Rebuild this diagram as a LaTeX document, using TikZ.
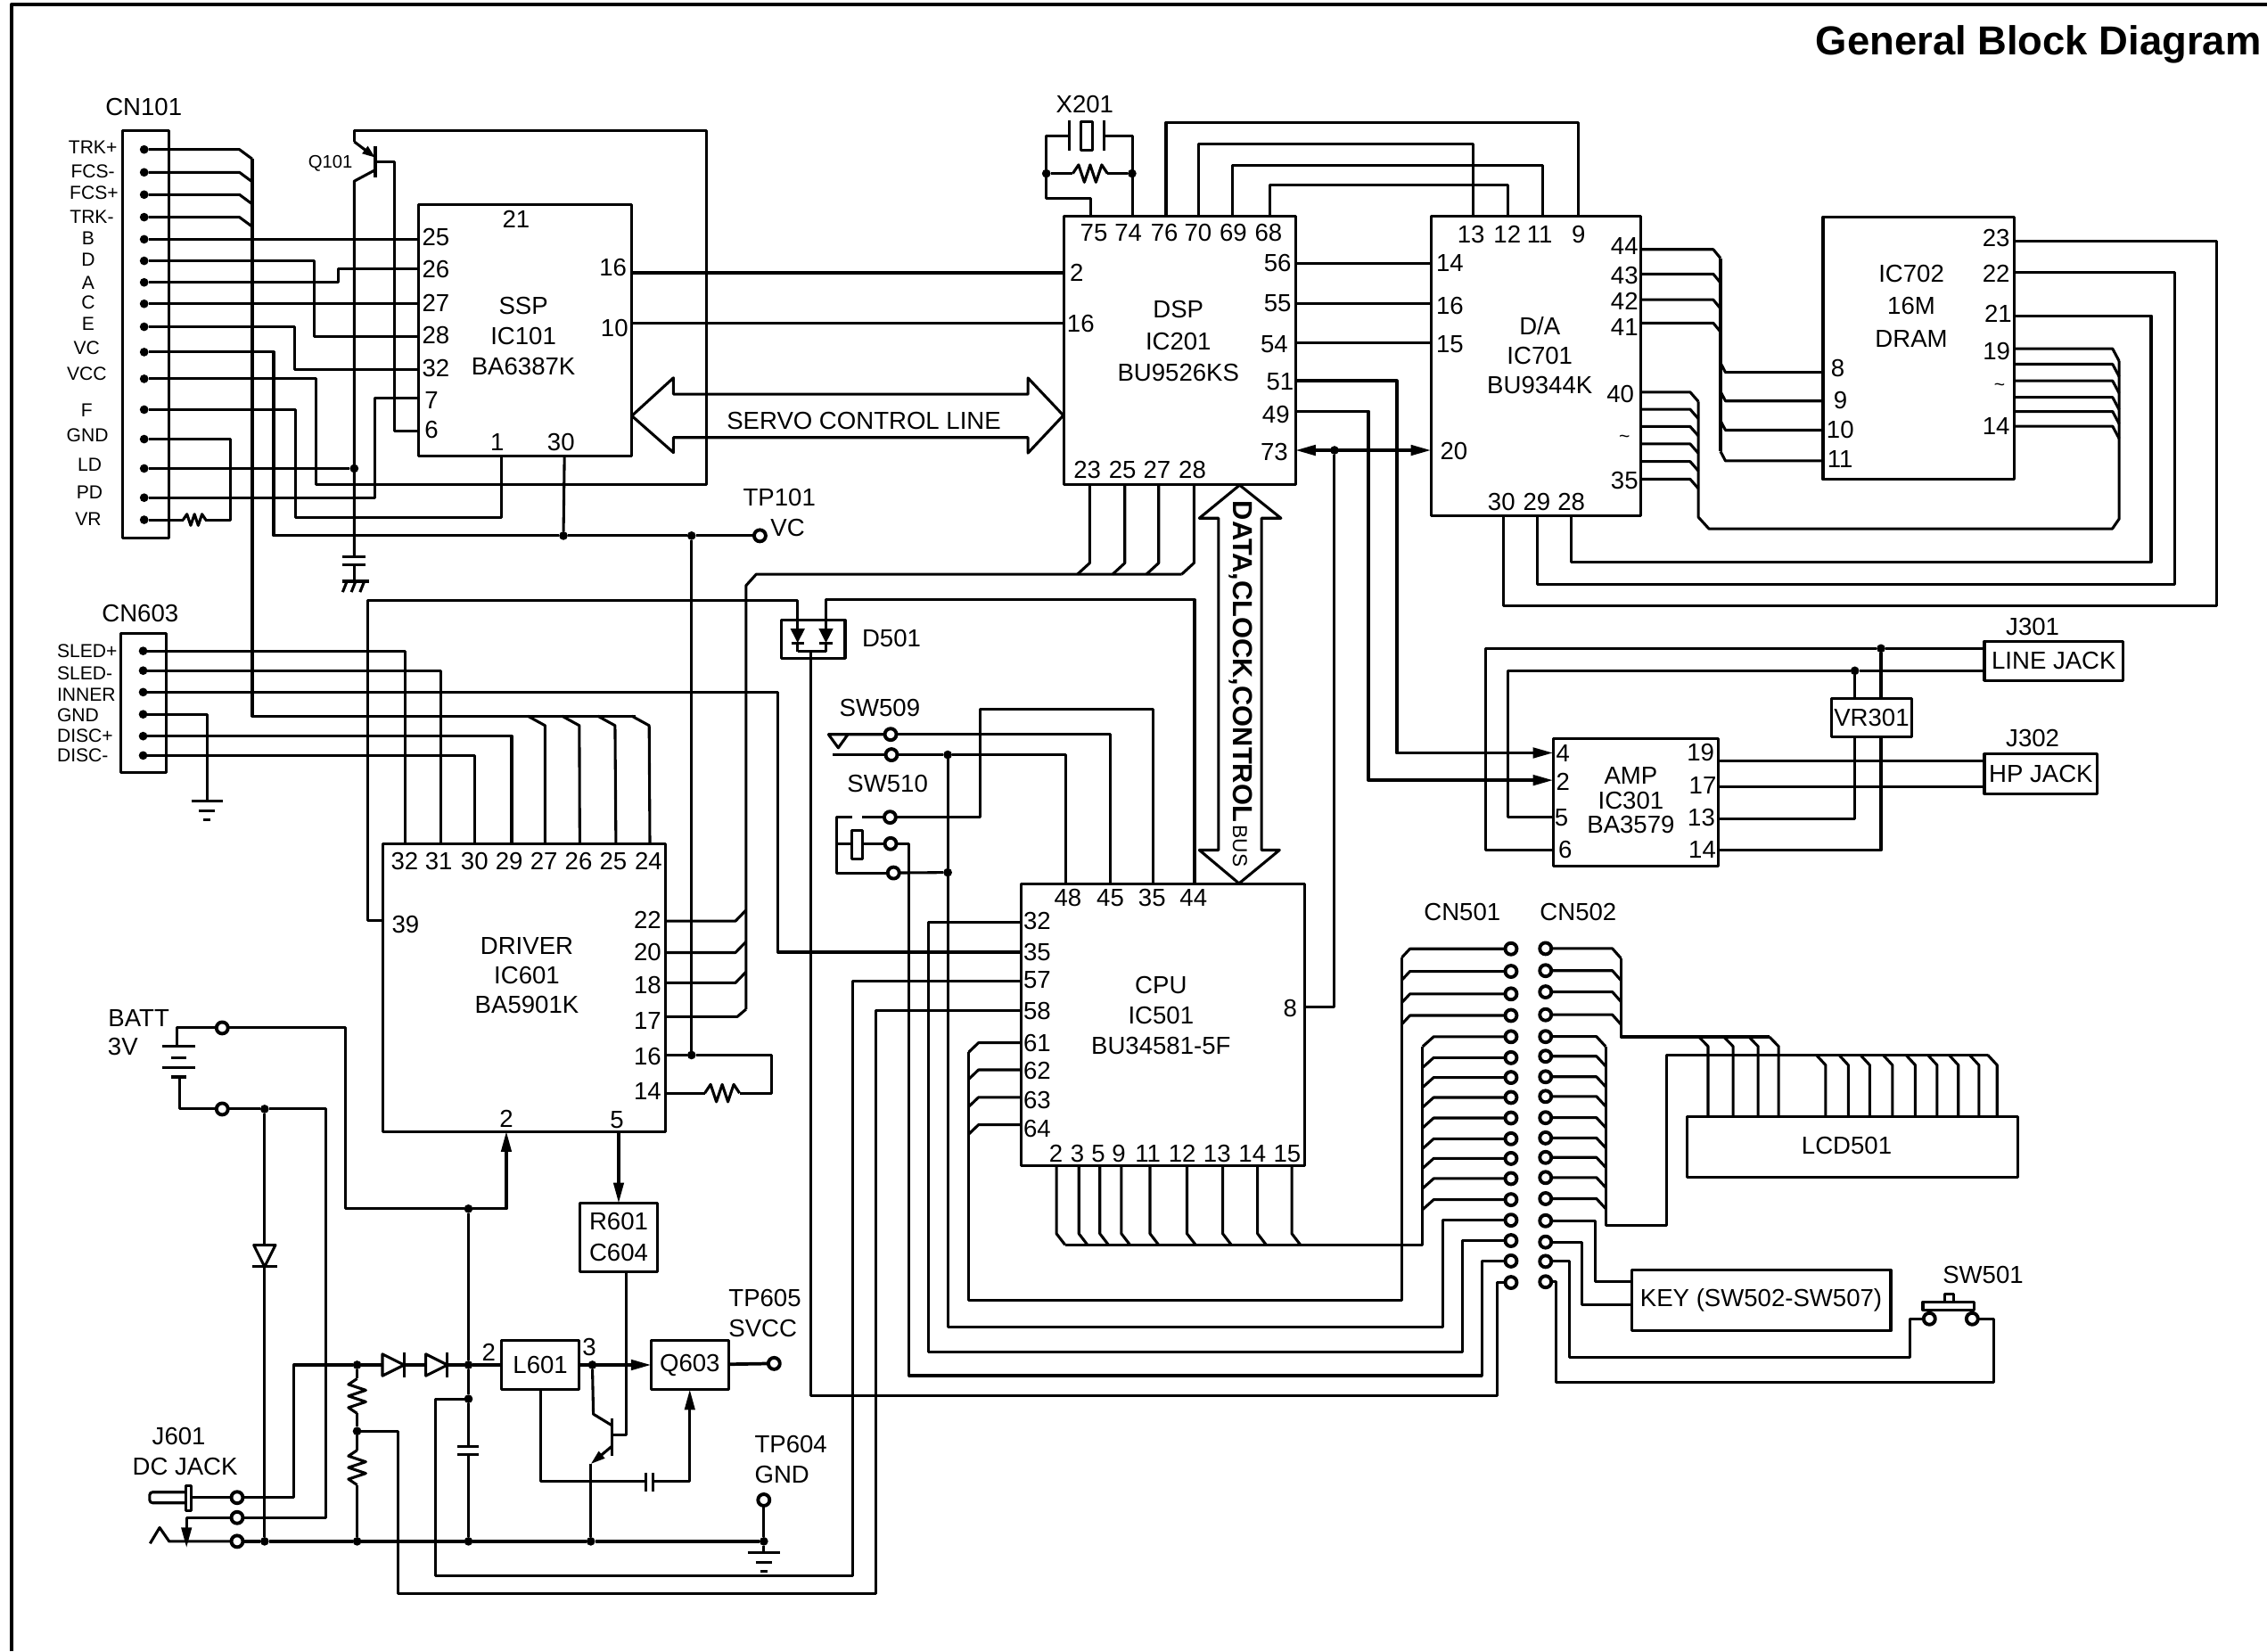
\documentclass[tikz,border=0pt]{standalone}
\usepackage{fontspec}
\setmainfont{Liberation Sans}
\usetikzlibrary{arrows.meta}

\newcommand{\numfont}{\fontsize{17}{20}\selectfont}
\newcommand{\smallfont}{\fontsize{13}{15}\selectfont}

\tikzset{
    every node/.style={inner sep=0, outer sep=0, font=\numfont},
    dot/.style={circle, fill, minimum size=6},
    term/.style={circle, draw, fill=white, line width=2.4, minimum size=8},
    ic/.style={draw, minimum width=#1},
    ictext/.style={align=center, font=\fontsize{17}{#1}\selectfont},
    heavy/.style={line width=2.3},
    resh/.pic={\draw (-12,0) -- (-8,-6) -- (-4,6) -- (0,-6) -- (4,6) -- (8,-6) -- (12,0);},
    diode/.pic={\draw[fill=white] (-7.5,-7.5) -- (7.5,0) -- (-7.5,7.5) -- cycle;
        \draw (7.5,-8.5) -- (7.5,8.5);},
    gndbars/.pic={\draw (-11,0) -- (11,0); \draw (-5.5,6.5) -- (5.5,6.5); \draw (-2.5,12.5) -- (2.5,12.5);},
}

\begin{document}
\begin{tikzpicture}[x=1pt, y=-1pt, line width=1.9, line join=round]
    \tikzset{>={Triangle[length=14,width=7]}}
    \useasboundingbox (0,0) rectangle (1568,1142);

    % Draw the frame and the title
    \draw[line width=2.4] (8,1142) -- (8,3) -- (1568,3);
    \node[anchor=east, font=\bfseries\fontsize{28}{30}\selectfont] (title) at (1564,31) {General Block Diagram};

    % Draw the boxes
    \node[ic=32, minimum height=282] (cn101) at (101,231.2) {};
    \node[ic=31.5, minimum height=96.2] (cn603) at (99.2,486.1) {};
    \node[ic=147.7, minimum height=174] (ic101) at (363.15,228.4) {};
    \node[ic=160, minimum height=185.7] (ic201) at (816,242.45) {};
    \node[ic=145.2, minimum height=206.9] (ic701) at (1062.4,253.05) {};
    \node[ic=132.1, minimum height=181.6] (ic702) at (1326.95,240.8) {};
    \node[ic=114.4, minimum height=88] (ic301) at (1131.5,554.8) {};
    \node[ic=195.8, minimum height=199] (ic601) at (362.5,683) {};
    \node[ic=196, minimum height=194.9] (ic501) at (804.2,709) {};
    \node[ic=44, minimum height=26.3] (d501) at (562.5,442.15) {};
    \node[ic=228.7, minimum height=41.9] (lcd501) at (1281.4,793) {};
    \node (llcd) at (1277.3,792.4) {LCD501};
    \node[ic=179.4, minimum height=41.9] (key) at (1218.1,899.5) {KEY (SW502-SW507)};
    \node[ic=53.4, minimum height=47.4, ictext=21.5] (r601) at (427.9,855.7) {R601\\C604};
    \node[ic=53.5, minimum height=34] (l601) at (373.75,944) {L601};
    \node[ic=53.4, minimum height=34] (q603) at (477.1,944) {Q603};
    \node[ic=55.9, minimum height=26.8] (vr301) at (1294.5,496.4) {VR301};
    \node[ic=96, minimum height=27.1] (linejack) at (1420.5,457.15) {LINE JACK};
    \node[ic=78.2, minimum height=27.3] (hpjack) at (1411.6,535.15) {HP JACK};

    % Text inside the ICs
    \node[ictext=21] (ssp) at (362,232.5) {SSP\\IC101\\BA6387K};
    \node[ictext=22] (dsp) at (815,236) {DSP\\IC201\\BU9526KS};
    \node[ictext=20.5] (da) at (1065,245.8) {D/A\\IC701\\BU9344K};
    \node[ictext=22.5] (dram) at (1322,211.5) {IC702\\16M\\DRAM};
    \node[ictext=17] (amp) at (1128,553.5) {AMP\\IC301\\BA3579};
    \node[ictext=20.5] (driver) at (364.4,674.6) {DRIVER\\IC601\\BA5901K};
    \node[ictext=21] (cpu) at (803,702.4) {CPU\\IC501\\BU34581-5F};

    % Other labels
    \node (lcn101) at (99.4,74.2) {CN101};
    \node (lcn603) at (97,424.3) {CN603};
    \node[font=\fontsize{12.5}{14}\selectfont] (lq101) at (228.5,113) {Q101};
    \node (lx201) at (750.3,72) {X201};
    \node[anchor=west] (ltp101) at (514,344) {TP101};
    \node[anchor=west] (lvc) at (533,365) {VC};
    \node (ld501) at (616.6,441.4) {D501};
    \node (lsw509) at (608.5,489.6) {SW509};
    \node (lsw510) at (613.9,542) {SW510};
    \node (lj301) at (1405.9,433.3) {J301};
    \node (lj302) at (1405.9,510.4) {J302};
    \node (lcn501) at (1011.4,631) {CN501};
    \node (lcn502) at (1091.6,630.6) {CN502};
    \node (lsw501) at (1371.6,882) {SW501};
    \node (lbatt) at (96,704.4) {BATT};
    \node (l3v) at (85,724) {3V};
    \node (lj601) at (123.7,993.5) {J601};
    \node (ldc) at (128,1014) {DC JACK};
    \node[anchor=west] (ltp605) at (504,897.8) {TP605};
    \node[anchor=west] (lsvcc) at (504,919) {SVCC};
    \node[anchor=west] (ltp604) at (522,999) {TP604};
    \node[anchor=west] (lgnd) at (522,1019.6) {GND};
    \node (l2l) at (338,935.4) {2};
    \node (l3l) at (407.6,931.8) {3};
    \node (l21) at (357,151.7) {21};
    \node (ltilde1) at (1123.6,303.6) {\smallfont\~{}};
    \node (ltilde2) at (1383,268) {\smallfont\~{}};

    % CN101 and CN603
    \foreach \n/\t/\lx/\ly/\dy in {1/TRK+/64.2/102.2/103.4, 2/FCS-/64.2/118.8/119.2, 3/FCS+/65/133.4/134.6,
        4/TRK-/63.5/150/150.2, 5/B/61/165/165.5, 6/D/61/179.7/180.4, 7/A/61/195.5/195.3, 8/C/61/209.4/210.1,
        9/E/61/223.8/226, 10/VC/60/240.6/243.5, 11/VCC/60/258.4/262, 12/F/60/283.8/283.3, 13/GND/60.5/300.8/303.7,
        14/LD/62/321.5/324, 15/PD/62/340.5/344.2, 16/VR/61/359.3/359.5} {
        \node[dot] (cn1-\n) at (99.7,\dy) {};
        \node[font=\smallfont] (cn1t\n) at (\lx,\ly) {\t};
    }
    \foreach \n/\t/\ly/\dy in {1/SLED+/450/450.2, 2/SLED-/465.5/463.8, 3/INNER/480.4/478.7,
        4/GND/494.8/494, 5/DISC+/508.7/509.1, 6/DISC-/522.5/522.5} {
        \node[dot] (cn6-\n) at (99,\dy) {};
        \node[anchor=west, font=\smallfont] (cn6t\n) at (39.5,\ly) {\t};
    }

    % CN501 and CN502
    \foreach \y [count=\n] in {656.2,671.8,687.4,702.3,717,731.5,745.2,759,773.2,787.6,801.2,815.1,829.7,843.9,858,872.1,887}
        \node[term] (cnl-\n) at (1045.1,\y) {};
    \foreach \y [count=\n] in {656,671.3,686,701.8,716.9,730.5,744.7,758.3,773,787,800.5,814.4,829,844.3,859,872.4,886.5}
        \node[term] (cnr-\n) at (1069,\y) {};

    % Pins: name/printed number/wire x/wire y/label x/label y
    \foreach \n/\t/\wx/\wy/\lx/\ly in {
        ssp25/25/289.3/165.5/301.5/164.3, ssp26/26/289.3/185.8/301.5/186.3, ssp27/27/289.3/210.1/301.5/209.7,
        ssp28/28/289.3/232.8/301.5/232, ssp32/32/289.3/255.5/301.5/254.5, ssp7/7/289.3/275.5/298.5/276.7,
        ssp6/6/289.3/297.9/298.5/297.4, ssp1/1/346.8/315.4/344/305.7, ssp30/30/390.4/315.4/388/305.7,
        ssp16/16/437/188.7/424/185, ssp10/10/437/223.5/425/226.7,
        dsp2/2/736/188.7/744.7/188.3, dsp16/16/736/223.5/747.5/224.1,
        dsp75/75/754.3/149.6/756.6/160.8, dsp74/74/783.3/149.6/780.4/160.8, dsp76/76/806.5/149.6/805.4/160.8,
        dsp70/70/829.2/149.6/828.6/160.8, dsp69/69/852.5/149.6/853/160.8, dsp68/68/878.6/149.6/877.4/160.8,
        dsp56/56/896/182.2/883.7/182.2, dsp55/55/896/210.2/883.7/209.8, dsp54/54/896/237.3/881.4/237.8,
        dsp51/51/896/263.4/885.4/263.9, dsp49/49/896/284.6/882.5/287, dsp73/73/896/311.4/881.4/312.6,
        dsp23/23/753.7/335.3/752/324.8, dsp25/25/778/335.3/776.4/324.8, dsp27/27/801.4/335.3/800.3/324.8,
        dsp28/28/825.8/335.3/824.7/324.8,
        da13/13/1018.7/149.6/1017.5/162, da12/12/1043/149.6/1042.5/162, da11/11/1066.9/149.6/1065/162,
        da9/9/1091.9/149.6/1091.9/162, da14/14/989.8/182.2/1002.8/182.2, da16/16/989.8/210.2/1002.8/211.5,
        da15/15/989.8/237.3/1002.8/238.3, da20/20/989.8/311.4/1005.6/311.9,
        da44/44/1135/172.5/1123.6/170, da43/43/1135/189.5/1123.6/190.3, da42/42/1135/207.3/1123.6/208.5,
        da41/41/1135/223.4/1123.6/226.6, da40/40/1135/271.2/1120.8/272.4, da35/35/1135/331.4/1123.6/332.1,
        da30/30/1039.7/356.5/1038.5/347.2, da29/29/1063.5/356.5/1062.9/347.2, da28/28/1086.8/356.5/1086.8/347.2,
        dr8/8/1260.9/257.5/1271.1/254.8, dr9/9/1260.9/277.3/1273/276.8, dr10/10/1260.9/297.5/1272.8/297.5,
        dr11/11/1260.9/318.7/1272.8/317.5, dr23/23/1393/166.9/1380.6/164.7, dr22/22/1393/188.3/1380.6/189,
        dr21/21/1393/218.3/1382/216.8, dr19/19/1393/241.2/1381/243.1, dr14/14/1393/294.8/1380.6/295,
        amp4/4/1074.3/520.7/1081/521, amp2/2/1074.3/539.6/1081/540.6, amp5/5/1074.3/565.3/1080/565.3,
        amp6/6/1074.3/587.9/1082.6/587.9, amp19/19/1188.7/526.2/1176.2/520.5, amp17/17/1188.7/543.9/1177.7/543.3,
        amp13/13/1188.7/566.5/1176.8/565.7, amp14/14/1188.7/587.9/1177.4/587.5,
        drv32/32/280.2/583.5/279.9/595.7, drv31/31/304.9/583.5/303.5/595.7, drv30/30/328.5/583.5/328.2/595.7,
        drv29/29/353.9/583.5/352.2/595.7, drv27/27/377/583.5/376.2/595.7, drv26/26/401/583.5/400.2/595.7,
        drv25/25/426/583.5/424.2/595.7, drv24/24/449.5/583.5/448.5/595.7, drv39/39/264.6/636.6/280.5/639.5,
        drv22/22/460.4/637/447.9/636.3, drv20/20/460.4/658.8/447.9/658.3, drv18/18/460.4/679.7/447.9/681.4,
        drv17/17/460.4/703.1/447.9/706, drv16/16/460.4/729.7/447.9/730.9, drv14/14/460.4/756/447.9/754.8,
        drv2/2/350.2/782.5/350.2/773.7, drv5/5/427.9/782.5/426.7/774.6,
        cpu48/48/737/611.5/738.6/620.8, cpu45/45/768/611.5/768/620.8, cput35/35/797.8/611.5/796.8/620.8,
        cpu44/44/826.2/611.5/825.5/620.8, cpul32/32/706.2/637.6/717.3/637, cpul35/35/706.2/658.5/717.3/658.3,
        cpu57/57/706.2/678.5/717.3/677.8, cpu58/58/706.2/698.7/717.3/699.2, cpu61/61/706.2/721.2/717.3/721.2,
        cpu62/62/706.2/739.9/717.3/740.7, cpu63/63/706.2/758.9/717.3/760.6, cpu64/64/706.2/777.9/717.3/780.8,
        cpu8/8/902.2/696.3/892.4/697.3,
        cpub2/2/730.7/806.4/730.3/797.9, cpub3/3/746.2/806.4/745.2/797.9, cpub5/5/760.7/806.4/759.7/797.9,
        cpub9/9/775.6/806.4/773.8/797.9, cpub11/11/795.4/806.4/794/797.9, cpub12/12/821/806.4/817.7/797.9,
        cpub13/13/845.7/806.4/841.8/797.9, cpub14/14/869.8/806.4/866.2/797.9, cpub15/15/893.5/806.4/890.3/797.9} {
        \coordinate (\n) at (\wx,\wy);
        \node (\n t) at (\lx,\ly) {\t};
    }

    % Junction dots
    \foreach \n/\x/\y in {jld/245/324, jvc1/389.7/370.5, jvc2/478.3/370.5, j16/478.3/729.7, jb/183/767,
        j836/324/836, jr1/247/944, j2/324/944, j3/324/967.5, j4/247/989.8, j5/409.7/944,
        jr2/183/1066, jr3/247/1066, jr4/324/1066, jr5/408.6/1066, jr6/528.3/1066,
        j6/655.5/522, j7/655.5/603.4, j8/923/311.4, j9/1301/448.5, j10/1282.9/463.9,
        jx1/723.7/120, jx2/783/120}
        \node[dot] (\n) at (\x,\y) {};

    % Terminals
    \foreach \n/\x/\y in {tp101/525.6/370.5, tp605/535.4/943, tp604/528.3/1037.4, batp/153.7/710.9, batn/153.7/767,
        tj1/164/1035.7, tj2/164/1049.6, tj3/164/1066, sw1a/616/507.9, sw1b/616.6/522, sw2a/615.6/565.2,
        sw2b/616/583.5, sw2c/618/603.7, sw5a/1334.5/912.1, sw5b/1364.1/912.1}
        \node[term] (\n) at (\x,\y) {};

    % CN101 to SSP
    \foreach \n in {1,...,4}
        \draw (cn1-\n) -- ++(65.9,0) -- ++(8.8,6.5);
    \draw (174.5,109.9) -- (174.5,495.2) -- (439.4,495.2);
    \foreach \x/\p in {365/drv27, 388.7/drv26, 413.4/drv25, 437/drv24}
        \draw (\x,495.2) -- ++(12,6.6) -- (\p);
    \draw (cn1-5) -- (ssp25);
    \draw (cn1-6) -| (217.3,232.8) -- (ssp28);
    \draw (cn1-7) -| (234.2,185.8) -- (ssp26);
    \draw (cn1-8) -- (ssp27);
    \draw (cn1-9) -| (203.5,255.5) -- (ssp32);
    \draw (cn1-10) -| (189.3,370.5) -- (jvc1) -- (jvc2) -- (tp101);
    \draw (cn1-11) -| (218.7,334.9) -| (488.7,90.2) -| (245,98);
    \draw (cn1-12) -| (204.5,357.8) -| (ssp1);
    \draw (cn1-13) -| (159.5,359.5) -- (142,359.5);
    \draw (cn1-16) -- (127,359.5);
    \pic[scale=.65] at (134.5,359.5) {resh};
    \draw (cn1-14) -- (jld);
    \draw (cn1-15) -| (259.2,275.5) -- (ssp7);
    \draw (ssp30) -- (jvc1);

    % Q101 and its capacitor
    \draw (259.6,101) -- (259.6,123);
    \draw[-{Triangle[length=9,width=6]}] (245,98) -- (259.6,109);
    \draw (259.6,117.5) -- (245,125.3) -- (245,385);
    \draw (259.6,112) -| (273,297.9) -- (ssp6);
    \draw (237,385) -- (253,385);
    \draw (237,390.5) -- (253,390.5);
    \draw (245,390.5) -- (245,402);
    \draw (236.6,402) -- (255,402);
    \foreach \x in {240,246,252}
        \draw (\x,402) -- ++(-3,7.5);

    % SSP to DSP
    \draw (ssp16) -- (dsp2);
    \draw (ssp10) -- (dsp16);
    \draw (437,287.6) -- (465.8,261.3) -- (465.8,272.6) -- (711,272.6) -- (711,261.4) -- (735.5,287.3)
        -- (711,313.3) -- (711,302.6) -- (465.8,302.6) -- (465.8,313) -- cycle;
    \node (lservo) at (597.5,291) {SERVO CONTROL LINE};

    % X201
    \draw (dsp75) |- (723.7,137.4) |- (739.6,94);
    \draw (739.6,83.5) -- (739.6,104);
    \draw (747.5,84) rectangle (755.5,103.8);
    \draw (763.4,83.5) -- (763.4,104);
    \draw (763.4,94) -| (dsp74);
    \draw (jx1) -- (742,120);
    \pic at (754,120) {resh};
    \draw (766,120) -- (jx2);

    % DSP to D/A
    \draw (dsp76) |- (1091.9,84.7) -- (da9);
    \draw (dsp70) |- (1018.7,99.6) -- (da13);
    \draw (dsp69) |- (1066.9,114.2) -- (da11);
    \draw (dsp68) |- (1043,128.1) -- (da12);
    \draw (dsp56) -- (da14);
    \draw (dsp55) -- (da16);
    \draw (dsp54) -- (da15);
    \draw[heavy, <->] (dsp73) -- (da20);
    \draw (j8) |- (cpu8);
    \draw[heavy, ->] (dsp51) -| (966,520.7) -- (amp4);
    \draw[heavy, ->] (dsp49) -| (946.6,539.6) -- (amp2);

    % DSP to DRIVER
    \foreach \p in {dsp23,dsp25,dsp27,dsp28}
        \draw (\p) -- ++(0,54.1) -- ++(-8.5,7.8);
    \draw (817.3,397.2) -- (523,397.2) -- (516,405) -- (516,698);
    \foreach \p in {drv22,drv20,drv18}
        \draw (\p) -- ++(48.3,0) -- ++(7.3,-7.5);
    \draw (drv17) -- ++(49.6,0) -- ++(6,-5.1);
    \draw (drv16) -- (j16);
    \draw (j16) -- (jvc2);
    \draw (j16) -| (533.6,756) -- (511.5,756);
    \pic at (499.5,756) {resh};
    \draw (drv14) -- (487.5,756);

    % D/A to DRAM
    \foreach \n/\y in {da44/172.5, da43/189.5, da42/207.3, da41/223.4}
        \draw (\n) -- (1185,\y) -- ++(5,6.1);
    \draw (1190,178.6) -- (1190,312.2);
    \foreach \p in {dr8,dr9,dr10,dr11}
        \draw (\p) -- ++(-67.5,0) -- ++(-3.4,-6.5);
    \foreach \y in {271.2,283.1,295,307,319.2,331.4}
        \draw (1135,\y) -- (1169,\y) -- ++(5.7,6.5);
    \draw (1174.7,277.7) -- (1174.7,357.7) -- (1182,365.7) -- (1461,365.7) -- (1465.7,358.9) -- (1465.7,249.7);
    \foreach \y in {241.2,251.9,263.4,274.8,284.6,294.8}
        \draw (1393,\y) -- (1461.2,\y) -- ++(4.5,8.5);
    \draw (dr23) -| (1533.2,419) -| (da30);
    \draw (dr22) -| (1504.3,404) -| (da29);
    \draw (dr21) -| (1487.8,388.6) -| (da28);

    % AMP and the jacks
    \coordinate (lj1) at (1372.5,448.5);
    \coordinate (lj2) at (1372.5,463.9);
    \coordinate (hp1) at (1372.5,526.2);
    \coordinate (hp2) at (1372.5,543.9);
    \draw (lj1) -- (j9) -- (1027.4,448.5) |- (amp6);
    \draw (lj2) -- (j10) -- (1043,463.9) |- (amp5);
    \draw (j9) -- (1301,483);
    \draw (j10) -- (1282.9,483);
    \draw (1282.9,509.8) |- (amp13);
    \draw (1301,509.8) |- (amp14);
    \draw (amp19) -- (hp1);
    \draw (amp17) -- (hp2);

    % CN603 to DRIVER
    \draw (cn6-1) -| (drv32);
    \draw (cn6-2) -| (drv31);
    \draw (cn6-3) -| (538.2,658.5) -- (cpul35);
    \draw (cn6-4) -| (143.3,554.2);
    \pic at (143.3,554.2) {gndbars};
    \draw (cn6-5) -| (drv29);
    \draw (cn6-6) -| (drv30);

    % D501
    \draw (drv39) -| (254.2,415.3) -| (551.7,434.8);
    \draw (571.3,434.8) |- (826.2,414.8) -- (cpu44);
    \foreach \x in {551.7,571.3} {
        \fill (\x-5,434.8) -- (\x+5,434.8) -- (\x,444.6) -- cycle;
        \draw (\x-4.4,444.6) -- (\x+4.4,444.6);
        \draw (\x,444.6) -- (\x,450.6);
    }
    \draw (551.7,450.6) -- (571.3,450.6);
    \draw (560.8,450.6) |- (1035.6,965.5) |- (cnl-17);

    % SW509 and SW510
    \draw (sw1a) -- (573,507.9) -- (586.5,507.9) -- (579.8,517.2) -- (573,507.9);
    \draw (sw1b) -- (576,522);
    \draw (sw1a) -| (cpu45);
    \draw (sw1b) -- (j6) -| (cpu48);
    \draw (sw2a) -| (677.8,490.4) -| (cput35);
    \draw (sw2a) -- (596.4,565.2);
    \draw (589.6,565.2) -- (578.7,565.2) |- (sw2c);
    \draw (589,574.2) rectangle (596.3,594);
    \draw (578.7,583.5) -- (589,583.5);
    \draw (596.3,583.5) -- (sw2b);
    \draw (sw2c) -- (j7);
    \draw (sw2b) -| (628.8,951.4) -| (1025,872.1) -- (cnl-16);
    \draw (j6) -- (j7) -- (655.5,917.8) -| (998,843.9) -- (cnl-14);
    \draw (cpul32) -- (642.4,637.6) -- (642.4,935) -| (1011.4,858) -- (cnl-15);

    % Data bus arrow
    \draw (857.4,335.5) -- (886,358.4) -- (872.5,358.4) -- (872.5,587.9) -- (885,587.9) -- (857,611)
        -- (829.5,587.9) -- (842.8,587.9) -- (842.8,358.4) -- (829.5,358.4) -- cycle;
    \node[rotate=-90, font=\bfseries\fontsize{19}{21}\selectfont] (lbus) at (858,473)
        {DATA,CLOCK,CONTROL{\mdseries\fontsize{14}{15}\selectfont\,BUS}};

    % CPU buses
    \foreach \p in {cpu61,cpu62,cpu63,cpu64}
        \draw (\p) -- ++(-29.4,0) -- ++(-6.8,6.5);
    \foreach \n in {1,...,4}
        \draw (cnl-\n) -- ++(-69.9,0) -- ++(-5.6,6);
    \draw (969.6,662.2) -- (969.6,899.5) -| (670,727.5);
    \foreach \p in {cpub2,cpub3,cpub5,cpub9,cpub11,cpub12,cpub13,cpub14,cpub15}
        \draw (\p) -- ++(0,46.8) -- ++(6,7.8);
    \foreach \n in {5,...,13}
        \draw (cnl-\n) -- ++(-53.5,0) -- ++(-7.6,6.8);
    \draw (984,723.8) -- (984,861) -- (736.7,861);

    % CN502 to LCD, KEY and SW501
    \foreach \n in {1,...,4}
        \draw (cnr-\n) -- ++(46.2,0) -- ++(6,6.8);
    \draw (1121.2,662.8) -- (1121.2,717.1) -- (1223.8,717.1);
    \foreach \x in {1175,1192.3,1209.6,1223.8}
        \draw (\x,717.1) -- ++(6.4,6.6) -- (\x+6.4,772);
    \foreach \n in {5,...,13}
        \draw (cnr-\n) -- ++(35.2,0) -- ++(6.3,6.8);
    \draw (1110.5,723.7) -- (1110.5,847.3) -| (1152.7,729.6) -- (1374.8,729.6);
    \foreach \x in {1256.2,1271.9,1286.7,1302.4,1318.2,1333.3,1348,1362.2,1374.8}
        \draw (\x,729.6) -- ++(6.5,7) -- (\x+6.5,772);
    \draw (cnr-14) -| (1103.6,886.3) -- (1128.4,886.3);
    \draw (cnr-15) -| (1094.2,902.1) -- (1128.4,902.1);
    \draw (cnr-16) -| (1085.7,938.9) -| (1321.3,912.1) -- (sw5a);
    \draw (cnr-17) -| (1076.5,956) -| (1378.9,912.1) -- (sw5b);
    \draw (1330,900.4) rectangle (1365.3,905.8);
    \draw (1345.2,895) rectangle (1351.2,900.4);

    % BATT
    \draw (batp) -- (122.6,710.9) -- (122.6,723.6);
    \draw (112,723.6) -- (135.3,723.6);
    \draw[line width=2.2] (118.3,731.5) -- (129,731.5);
    \draw (112,738.3) -- (135.3,738.3);
    \draw[line width=2.2] (118.3,744.8) -- (129,744.8);
    \draw (124.4,744.8) |- (batn);
    \draw (batn) -- (jb) -- (225.6,767) |- (tj2);
    \draw (batp) -| (238.7,836) -- (j836);
    \draw[->] (j836) -| (drv2);

    % Supply section
    \draw (jb) -- (183,861.1);
    \pic[rotate=-90] at (183,868.6) {diode};
    \draw (183,876.1) -- (jr2);
    \draw (tj1) -| (203.3,944) -- (jr1);
    \draw (jr1) -- (264.5,944);
    \pic at (272,944) {diode};
    \draw (279.5,944) -- (294.5,944);
    \pic at (302,944) {diode};
    \draw (309.5,944) -- (j2);
    \draw (j2) -- (l601);
    \draw (j836) -- (j2) -- (j3) -- (324,1000.6);
    \draw (316.6,1000.6) -- (331.4,1000.6);
    \draw (316.6,1006) -- (331.4,1006);
    \draw (324,1006) -- (jr4);
    \draw (j3) -| (301,1089.8) -| (590,678.5) -- (cpu57);
    \draw (jr1) -- (247,953.5);
    \pic[rotate=90] at (247,965.5) {resh};
    \draw (247,977.5) -- (j4) -- (247,1003);
    \pic[rotate=90] at (247,1015) {resh};
    \draw (247,1027) -- (jr3);
    \draw (j4) -| (275.5,1102) -| (605.8,698.7) -- (cpu58);
    \draw[heavy] (tj3) -- (jr2) -- (jr3) -- (jr4) -- (jr5) -- (jr6);
    \draw (tp604) -- (jr6) -- (528.3,1074);
    \pic at (528.3,1074) {gndbars};

    % J601
    \draw[rounded corners=2] (128.3,1032) -- (103.5,1032) -- (103.5,1039.4) -- (128.3,1039.4);
    \draw (128.3,1027.5) rectangle (132.5,1045);
    \draw (132.5,1035.7) -- (tj1);
    \draw (tj2) -- (129,1049.6);
    \draw[->] (129,1049.6) -- (129,1070.4);
    \draw (tj3) -- (117,1066) -- (110.4,1056.5) -- (103.8,1067.5);

    % L601, Q603 and the transistor
    \draw[heavy, ->] (l601) -- (q603);
    \draw (j5) -- (410.4,978) -- (423.5,986);
    \draw (423.5,980.8) -- (423.5,1006.8);
    \draw[-{Triangle[length=10,width=6]}] (423.5,1000) -- (408.6,1012.5);
    \draw (408.6,1012.5) -- (jr5);
    \draw (433.4,879.4) |- (423.5,992.6);
    \draw[->] (drv5) -- (r601);
    \draw (l601.south) |- (446.9,1024.7);
    \draw (446.9,1018.5) -- (446.9,1031.5);
    \draw (451.8,1018.5) -- (451.8,1031.5);
    \draw[->] (451.8,1024.7) -| (q603.south);
    \draw[heavy] (q603) -- (tp605);
\end{tikzpicture}
\end{document}
